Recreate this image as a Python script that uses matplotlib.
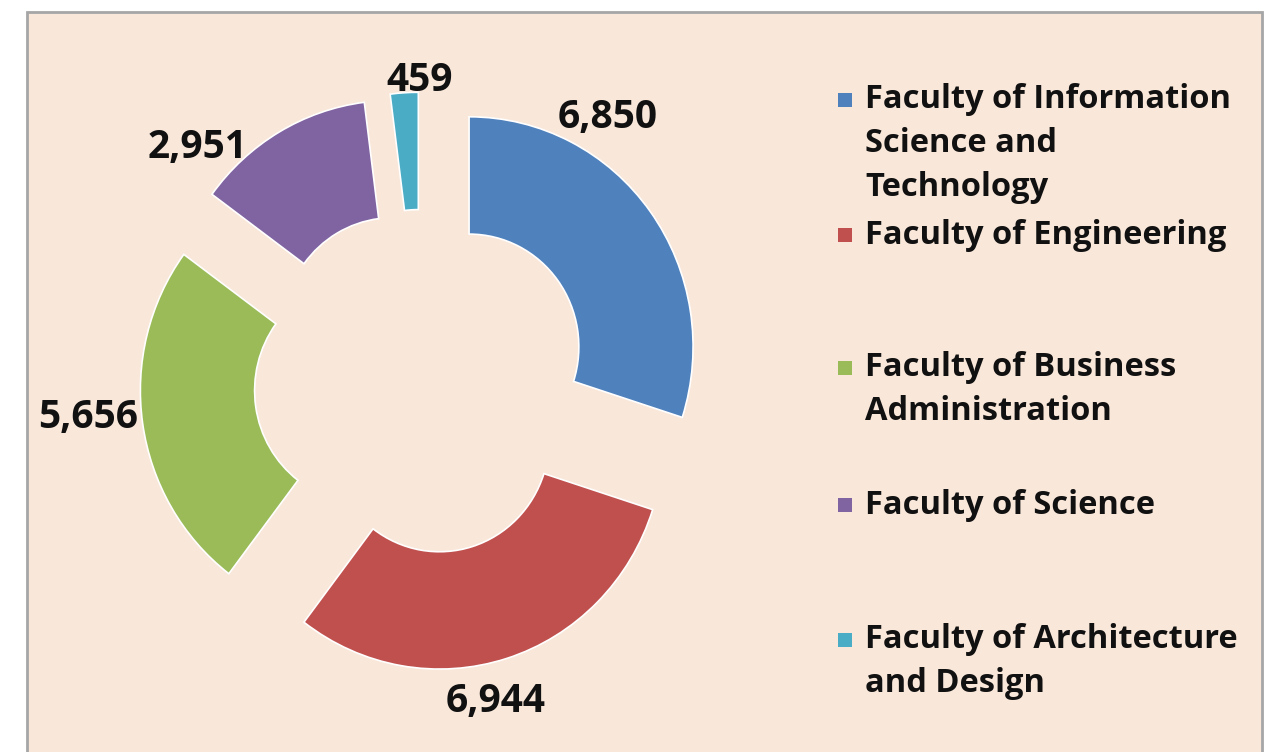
import matplotlib
matplotlib.use("Agg")
import matplotlib.pyplot as plt
from matplotlib.patches import Rectangle
import numpy as np

# ---- data ----
faculties = [
    "Faculty of Information\nScience and\nTechnology",
    "Faculty of Engineering",
    "Faculty of Business\nAdministration",
    "Faculty of Science",
    "Faculty of Architecture\nand Design",
]
students = [6850, 6944, 5656, 2951, 459]
value_labels = ["6,850", "6,944", "5,656", "2,951", "459"]
colors = ["#4F81BD", "#C0504D", "#9BBB59", "#8064A2", "#4BACC6"]

W, H = 1268, 752
BG = "#F9E7DA"
FONT = "Open Sans"

fig = plt.figure(figsize=(W / 100, H / 100), dpi=100)
fig.patch.set_facecolor("white")

# chart area frame
frame = Rectangle((27 / W, -0.01), (1262 - 27) / W, (H - 12) / H + 0.01,
                  transform=fig.transFigure, facecolor=BG,
                  edgecolor="#A6A6A6", linewidth=2, zorder=-5)
fig.patches.append(frame)

# donut axes: 1 data unit = Rx px horizontally, Ry px vertically (slightly squeezed like the source)
Rx, Ry = 224.0, 230.0
cx, cy = 422.0, H - 382.0
L = 1.65
ax = fig.add_axes([(cx - L * Rx) / W, (cy - L * Ry) / H, 2 * L * Rx / W, 2 * L * Ry / H])
ax.set_zorder(2)
ax.patch.set_visible(False)

explode = [0.26] * len(students)
wedges, _ = ax.pie(students, colors=colors, startangle=90, counterclock=False,
                   explode=explode, radius=1.0,
                   wedgeprops=dict(width=0.51, edgecolor="white", linewidth=1.2))
ax.set_xlim(-L, L)
ax.set_ylim(-L, L)
ax.set_aspect("auto")
ax.axis("off")

# data labels placed around the ring
label_pos = [(0.83, 1.15), (0.33, -1.39), (-1.49, -0.155), (-1.0, 1.02), (-0.01, 1.31)]
for (x, y), t in zip(label_pos, value_labels):
    ax.text(x, y, t, ha="center", va="center", fontsize=28, fontweight="bold",
            family=FONT, color="#111111")

# legend (manual, Excel-like spacing)
legend_rows = [100, 235, 368, 505, 640]
line_gap = 44
for lab, col, yrow in zip(faculties, colors, legend_rows):
    fig.patches.append(Rectangle((838 / W, 1 - (yrow + 7) / H), 14 / W, 14 / H,
                                 transform=fig.transFigure, facecolor=col,
                                 edgecolor="none"))
    for i, line in enumerate(lab.split("\n")):
        fig.text(865 / W, 1 - (yrow + i * line_gap) / H, line, ha="left", va="center",
                 fontsize=23.5, fontweight="bold", family=FONT, color="#111111")

fig.savefig("out.png", dpi=100, facecolor=fig.get_facecolor())
